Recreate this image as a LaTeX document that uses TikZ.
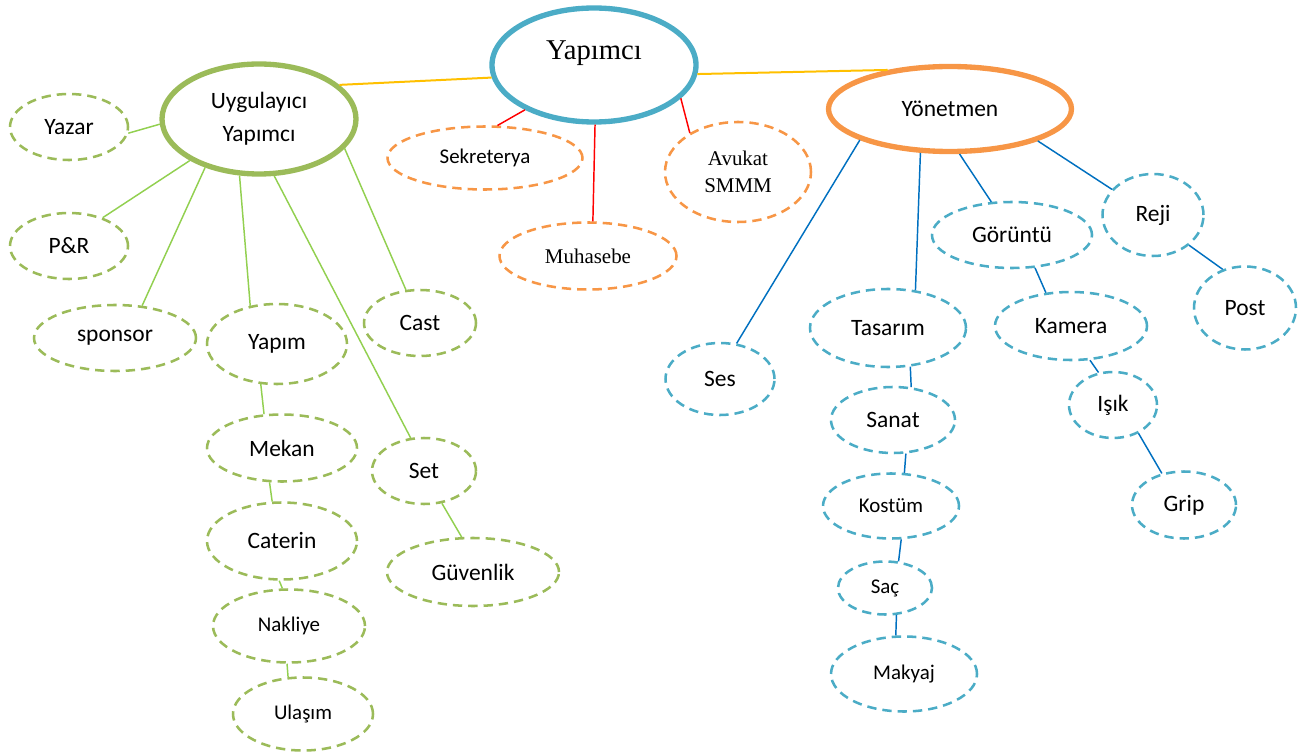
\documentclass[tikz,border=0pt]{standalone}
\usepackage{fontspec}
\setmainfont{Carlito}
\newfontfamily\serifTimes{Liberation Serif}
\usetikzlibrary{shapes.geometric}
\definecolor{headBlue}{HTML}{4BACC6}
\definecolor{headGreen}{HTML}{9BBB59}
\definecolor{headOrange}{HTML}{F79646}
\definecolor{linkGold}{HTML}{FFC000}
\definecolor{linkRed}{HTML}{FF0000}
\definecolor{linkGreen}{HTML}{92D050}
\definecolor{linkBlue}{HTML}{0070C0}
\newcommand{\bigtext}{\fontsize{17.6}{24.5}\selectfont}
\newcommand{\smalltext}{\fontsize{15.7}{20}\selectfont}

\begin{document}
\begin{tikzpicture}[x=0.75pt, y=-0.75pt,
  oval/.style 2 args={ellipse, inner sep=0pt, align=center,
    minimum width=#1*0.75pt, minimum height=#2*0.75pt},
  boss/.style={draw=#1, line width=4pt},
  crew/.style={draw=#1, line width=1.9pt, dash pattern=on 7pt off 4.5pt},
  link/.style={draw=#1, line width=1.1pt}]
  \path[use as bounding box] (0,0) rectangle (1311,756);

  % heads
  \node[oval={204}{114}, boss=headBlue, font={\serifTimes\fontsize{21.5}{22.5}\selectfont}]
    (yapimci) at (594,65) {Yapımcı\\\mbox{}};
  \node[oval={194}{110}, boss=headGreen, font=\bigtext]
    (uygulayici) at (259,119) {Uygulayıcı\\Yapımcı};
  \node[oval={243}{85}, boss=headOrange, font=\bigtext]
    (yonetmen) at (950,109) {Yönetmen};

  % producer side
  \node[oval={195}{63}, crew=headOrange, font=\smalltext] (sekreterya) at (485,158) {Sekreterya};
  \node[oval={177}{67}, crew=headOrange, font={\serifTimes\smalltext}] (muhasebe) at (588,256) {Muhasebe};
  \node[oval={146}{100}, crew=headOrange, font={\serifTimes\fontsize{15.7}{20}\selectfont}]
    (avukat) at (738,172) {Avukat\\SMMM};

  % executive producer side
  \node[oval={118}{66}, crew=headGreen, font=\bigtext] (yazar) at (69,127) {Yazar};
  \node[oval={118}{66}, crew=headGreen, font=\bigtext] (pr) at (69,246) {P\&R};
  \node[oval={162}{66}, crew=headGreen, font=\bigtext] (sponsor) at (115,338) {sponsor};
  \node[oval={140}{80}, crew=headGreen, font=\bigtext] (yapim) at (277,344) {Yapım};
  \node[oval={112}{66}, crew=headGreen, font=\bigtext] (cast) at (420,323) {Cast};
  \node[oval={150}{67}, crew=headGreen, font=\bigtext] (mekan) at (282,448) {Mekan};
  \node[oval={104}{66}, crew=headGreen, font=\bigtext] (set) at (424,471) {Set};
  \node[oval={150}{77}, crew=headGreen, font=\bigtext] (caterin) at (282,541) {Caterin};
  \node[oval={172}{68}, crew=headGreen, font=\bigtext] (guvenlik) at (473,572) {Güvenlik};
  \node[oval={152}{73}, crew=headGreen, font=\smalltext] (nakliye) at (289,626) {Nakliye};
  \node[oval={140}{73}, crew=headGreen, font=\smalltext] (ulasim) at (303,714) {Ulaşım};

  % director side
  \node[oval={101}{82}, crew=headBlue, font=\bigtext] (reji) at (1153,215) {Reji};
  \node[oval={160}{66}, crew=headBlue, font=\bigtext] (goruntu) at (1012,235) {Görüntü};
  \node[oval={102}{83}, crew=headBlue, font=\bigtext] (post) at (1245,308) {Post};
  \node[oval={156}{78}, crew=headBlue, font=\bigtext] (tasarim) at (888,328) {Tasarım};
  \node[oval={152}{68}, crew=headBlue, font=\bigtext] (kamera) at (1071,326) {Kamera};
  \node[oval={109}{72}, crew=headBlue, font=\bigtext] (ses) at (720,379) {Ses};
  \node[oval={124}{66}, crew=headBlue, font=\bigtext] (sanat) at (893,420) {Sanat};
  \node[oval={88}{66}, crew=headBlue, font=\bigtext] (isik) at (1113,405) {Işık};
  \node[oval={136}{65}, crew=headBlue, font=\smalltext] (kostum) at (891,506) {Kostüm};
  \node[oval={104}{67}, crew=headBlue, font=\bigtext] (grip) at (1184,505) {Grip};
  \node[oval={94}{53}, crew=headBlue, font=\smalltext] (sac) at (885,588) {Saç};
  \node[oval={146}{75}, crew=headBlue, font=\smalltext] (makyaj) at (904,674) {Makyaj};

  % links between heads
  \draw[link=linkGold, line width=1.5pt] (uygulayici.23) -- (yapimci.187);
  \draw[link=linkGold, line width=1.5pt] (yapimci.-5) -- (yonetmen.148);

  \draw[link=linkRed] (yapimci.213) -- (sekreterya.69);
  \draw[link=linkRed] (yapimci.-89) -- (muhasebe.82);
  \draw[link=linkRed] (yapimci.-21) -- (avukat.141);

  \draw[link=linkGreen] (uygulayici.183) -- (yazar.-6);
  \draw[link=linkGreen] (uygulayici.211) -- (pr.40);
  \draw[link=linkGreen] (uygulayici.222) -- (sponsor.50);
  \draw[link=linkGreen] (uygulayici.251) -- (yapim.125);
  \draw[link=linkGreen] (uygulayici.285) -- (set.112);
  \draw[link=linkGreen] (uygulayici.341) -- (cast.113);
  \draw[link=linkGreen] (yapim.248) -- (mekan.118);
  \draw[link=linkGreen] (mekan.250) -- (caterin.104);
  \draw[link=linkGreen] (caterin.266) -- (nakliye.100);
  \draw[link=linkGreen] (nakliye.267) -- (ulasim.112);
  \draw[link=linkGreen] (set.299) -- (guvenlik.108);

  \draw[link=linkBlue] (yonetmen.199) -- (ses.65);
  \draw[link=linkBlue] (yonetmen.236) -- (tasarim.54);
  \draw[link=linkBlue] (yonetmen.282) -- (goruntu.122);
  \draw[link=linkBlue] (yonetmen.340) -- (reji.148);
  \draw[link=linkBlue] (reji.320) -- (post.120);
  \draw[link=linkBlue] (goruntu.305) -- (kamera.127);
  \draw[link=linkBlue] (kamera.299) -- (isik.114);
  \draw[link=linkBlue] (isik.312) -- (grip.125);
  \draw[link=linkBlue] (tasarim.300) -- (sanat.61);
  \draw[link=linkBlue] (sanat.291) -- (kostum.68);
  \draw[link=linkBlue] (kostum.287) -- (sac.63);
  \draw[link=linkBlue] (sac.293) -- (makyaj.102);
\end{tikzpicture}
\end{document}
